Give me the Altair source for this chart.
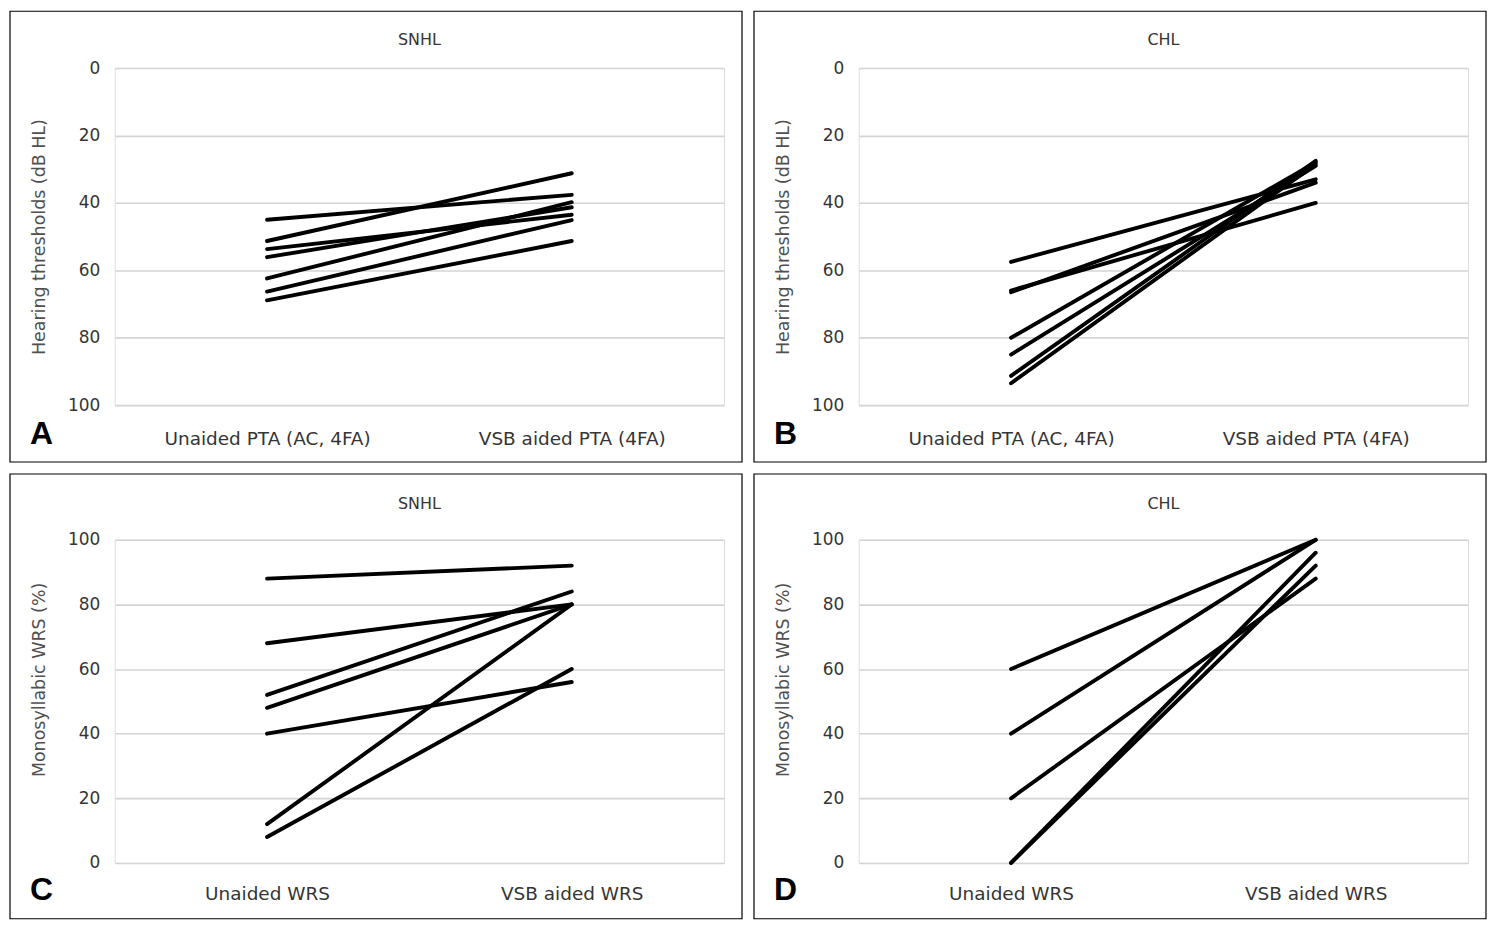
import altair as alt
import pandas as pd

# ---------------- data ----------------
pta_cats = ["Unaided PTA (AC, 4FA)", "VSB aided PTA (4FA)"]
wrs_cats = ["Unaided WRS", "VSB aided WRS"]

snhl_pta_unaided = [45, 51.3, 53.7, 56.1, 62.4, 66.3, 68.9]
snhl_pta_aided = [37.6, 31.2, 43.5, 41.3, 39.8, 45.1, 51.3]

chl_pta_unaided = [57.5, 66, 66.5, 80, 85, 91.3, 93.5]
chl_pta_aided = [33, 40, 34, 28, 29, 27.5, 28.5]

snhl_wrs_unaided = [88, 68, 52, 48, 40, 12, 8]
snhl_wrs_aided = [92, 80, 84, 80, 56, 80, 60]

chl_wrs_unaided = [60, 40, 20, 0, 0]
chl_wrs_aided = [100, 100, 88, 96, 92]

y_ticks = [0, 20, 40, 60, 80, 100]

FONT = "DejaVu Sans"
LABEL_COLOR = "#353535"
TITLE_COLOR = "#505050"


def panel(cats, unaided, aided, title, ytitle, letter, reverse,
          W, H, L, R, T, B, title_off, ytitle_y, xlab_pad):
    rows = []
    for i, (u, a) in enumerate(zip(unaided, aided)):
        rows.append({"id": i, "cat": cats[0], "v": u})
        rows.append({"id": i, "cat": cats[1], "v": a})
    df = pd.DataFrame(rows)

    lines = alt.Chart(df).mark_line(
        color="black", strokeWidth=3.9, strokeCap="round"
    ).encode(
        x=alt.X("cat:N", sort=cats,
                scale=alt.Scale(type="point", padding=0.5),
                axis=alt.Axis(title=None, labelAngle=0, ticks=False, domain=False,
                              grid=False, labelFontSize=18.5, labelFont=FONT,
                              labelColor=LABEL_COLOR, labelPadding=xlab_pad,
                              labelBaseline="alphabetic", labelLimit=500)),
        y=alt.Y("v:Q",
                scale=alt.Scale(domain=[0, 100], reverse=reverse, nice=False, zero=False),
                axis=alt.Axis(values=y_ticks, format="d", title=ytitle,
                              ticks=False, domain=False, grid=True,
                              gridColor="#d4d4d4", gridWidth=1.6,
                              labelFontSize=17, labelFont=FONT,
                              labelColor=LABEL_COLOR, labelPadding=15,
                              titleFontSize=17.5, titleFont=FONT,
                              titleFontWeight="normal", titleColor=TITLE_COLOR,
                              titleX=-75, titleY=ytitle_y, titleAngle=270,
                              titleAlign="center", titleBaseline="middle")),
        detail="id:N",
    )

    frame = alt.Chart(pd.DataFrame({"f": [0]})).mark_rect(
        fillOpacity=0, stroke="black", strokeWidth=1.2
    ).encode(
        x=alt.value(-L), x2=alt.value(W + R),
        y=alt.value(-T), y2=alt.value(H + B),
    )

    letter_layer = alt.Chart(pd.DataFrame({"t": [letter]})).mark_text(
        font="Liberation Sans", fontWeight="bold", fontSize=32,
        align="left", baseline="alphabetic", color="black"
    ).encode(
        text="t:N", x=alt.value(-85), y=alt.value(H + xlab_pad),
    )

    title_layer = alt.Chart(pd.DataFrame({"t": [title]})).mark_text(
        font=FONT, fontSize=16, align="center", baseline="alphabetic",
        color=LABEL_COLOR
    ).encode(
        text="t:N", x=alt.value(W / 2), y=alt.value(-title_off),
    )

    return alt.layer(frame, lines, letter_layer, title_layer).properties(
        width=W, height=H,
    )


W, L, R = 611, 105, 18

pA = panel(pta_cats, snhl_pta_unaided, snhl_pta_aided, "SNHL",
           "Hearing thresholds (dB HL)", "A", True,
           W, 338, L, R, 57, 57, 23, 169, 39)
pB = panel(pta_cats, chl_pta_unaided, chl_pta_aided, "CHL",
           "Hearing thresholds (dB HL)", "B", True,
           W, 338, L, R, 57, 57, 23, 169, 39)
pC = panel(wrs_cats, snhl_wrs_unaided, snhl_wrs_aided, "SNHL",
           "Monosyllabic WRS (%)", "C", False,
           W, 324, L, R, 66, 56, 31, 140, 37)
pD = panel(wrs_cats, chl_wrs_unaided, chl_wrs_aided, "CHL",
           "Monosyllabic WRS (%)", "D", False,
           W, 324, L, R, 66, 56, 31, 140, 37)

chart = alt.vconcat(
    alt.hconcat(pA, pB, spacing=8),
    alt.hconcat(pC, pD, spacing=8),
    spacing=8,
).properties(
    padding=0,
).configure_view(
    strokeWidth=0
).configure(
    font=FONT, background="white"
)

chart.save("out.html", embed_options={"renderer": "svg", "actions": False})
